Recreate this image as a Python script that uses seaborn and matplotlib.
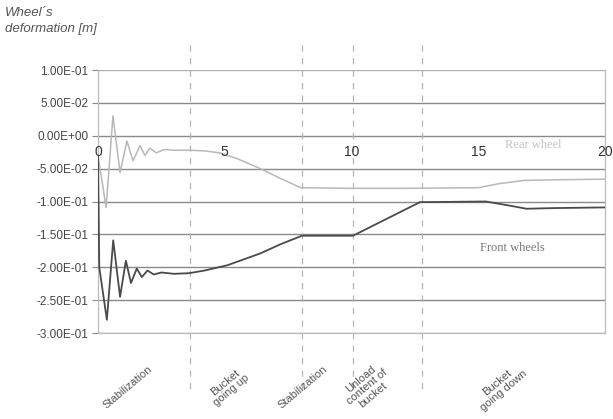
import matplotlib
matplotlib.use("Agg")
import matplotlib.pyplot as plt
import seaborn as sns
import pandas as pd

# ---- data ----
rear_t = [0, 0.32, 0.59, 0.87, 1.14, 1.38, 1.66, 1.85, 2.05, 2.3, 2.6, 3.0, 3.6, 4.2, 4.8, 5.5, 6.4, 7.2, 8.0, 10.0, 12.0, 15.0, 15.8, 16.8, 18.0, 20.0]
rear_y = [-0.03, -0.109, 0.03, -0.056, -0.008, -0.038, -0.015, -0.03, -0.019, -0.026, -0.021, -0.022, -0.022, -0.023, -0.026, -0.035, -0.05, -0.065, -0.079, -0.08, -0.08, -0.079, -0.073, -0.068, -0.067, -0.066]

front_t = [0, 0.05, 0.35, 0.6, 0.87, 1.1, 1.3, 1.53, 1.73, 1.95, 2.2, 2.5, 3.0, 3.6, 4.2, 5.1, 6.4, 7.2, 8.05, 10.06, 12.7, 15.3, 16.2, 16.9, 18.0, 20.0]
front_y = [-0.03, -0.2, -0.28, -0.159, -0.245, -0.19, -0.224, -0.202, -0.215, -0.205, -0.211, -0.208, -0.21, -0.209, -0.205, -0.197, -0.179, -0.165, -0.152, -0.152, -0.101, -0.10, -0.106, -0.111, -0.11, -0.109]

y_ticks = [0.1, 0.05, 0.0, -0.05, -0.1, -0.15, -0.2, -0.25, -0.3]
y_tick_labels = ["1.00E-01", "5.00E-02", "0.00E+00", "-5.00E-02", "-1.00E-01",
                 "-1.50E-01", "-2.00E-01", "-2.50E-01", "-3.00E-01"]
x_ticks = [0, 5, 10, 15, 20]
phase_bounds = [3.63, 8.05, 10.06, 12.78]
phase_labels = ["Stabilization", "Bucket\ngoing up", "Stabilization",
                "Unload\ncontent of\nbucket", "Bucket\ngoing down"]
phase_label_x = [1.18, 5.13, 8.09, 10.61, 15.86]

sns.set_style("white")
plt.rcParams['font.family'] = ['Liberation Sans', 'DejaVu Sans']

fig = plt.figure(figsize=(6.13, 4.19), dpi=100)
ax = fig.add_axes([98/613, 1-333/419, (605-98)/613, (333-70)/419])

# horizontal grid lines
for yv in y_ticks:
    ax.axhline(yv, color="#8a8a8a" if yv < 0.09 else "#b0b0b0", lw=1.0, zorder=1)

# dashed phase lines, extending beyond the axes
for xb in phase_bounds:
    ax.plot([xb, xb], [0.138, -0.385], color="#b5b5b5", lw=0.9,
            ls=(0, (5, 5)), clip_on=False, zorder=1)

df_r = pd.DataFrame({"t": rear_t, "y": rear_y})
df_f = pd.DataFrame({"t": front_t, "y": front_y})
sns.lineplot(data=df_r, x="t", y="y", ax=ax, color="#b8b8b8", lw=1.1, zorder=3)
sns.lineplot(data=df_f, x="t", y="y", ax=ax, color="#4a4a4a", lw=1.3, zorder=4)

ax.set_xlim(0, 20)
ax.set_ylim(-0.3, 0.1)
ax.set_yticks(y_ticks)
ax.set_yticklabels(y_tick_labels, fontsize=8.5, color="#444444")
ax.tick_params(axis="y", length=4, color="#888888", pad=3, left=True)
ax.set_xticks([])
ax.set_xlabel("")
ax.set_ylabel("")

for s in ["top"]:
    ax.spines[s].set_visible(False)
for s in ["left", "bottom", "right"]:
    ax.spines[s].set_color("#bbbbbb")
    ax.spines[s].set_linewidth(0.9)

# x tick labels sitting just below the zero line
for xv in x_ticks:
    ax.text(xv, -0.024, str(xv), ha="center", va="center", fontsize=10,
            color="#333333", clip_on=False, zorder=5)

# series annotations
ax.text(17.15, -0.014, "Rear wheel", family=["Liberation Serif", "DejaVu Serif"],
        fontsize=9, color="#c4c4c4", ha="center", va="center")
ax.text(16.35, -0.17, "Front wheels", family=["Liberation Serif", "DejaVu Serif"],
        fontsize=9, color="#777777", ha="center", va="center")

# phase labels
for lab, xl in zip(phase_labels, phase_label_x):
    ax.text(xl, -0.382, lab, rotation=40, ha="center", va="center",
            fontsize=8, color="#555555", clip_on=False, linespacing=1.0)

# y-axis title
fig.text(5/613, 1-7/419, "Wheel´s\ndeformation [m]", ha="left", va="top",
         fontsize=9.5, style="italic", color="#555555", linespacing=1.45)

fig.savefig("out.png", dpi=100)
